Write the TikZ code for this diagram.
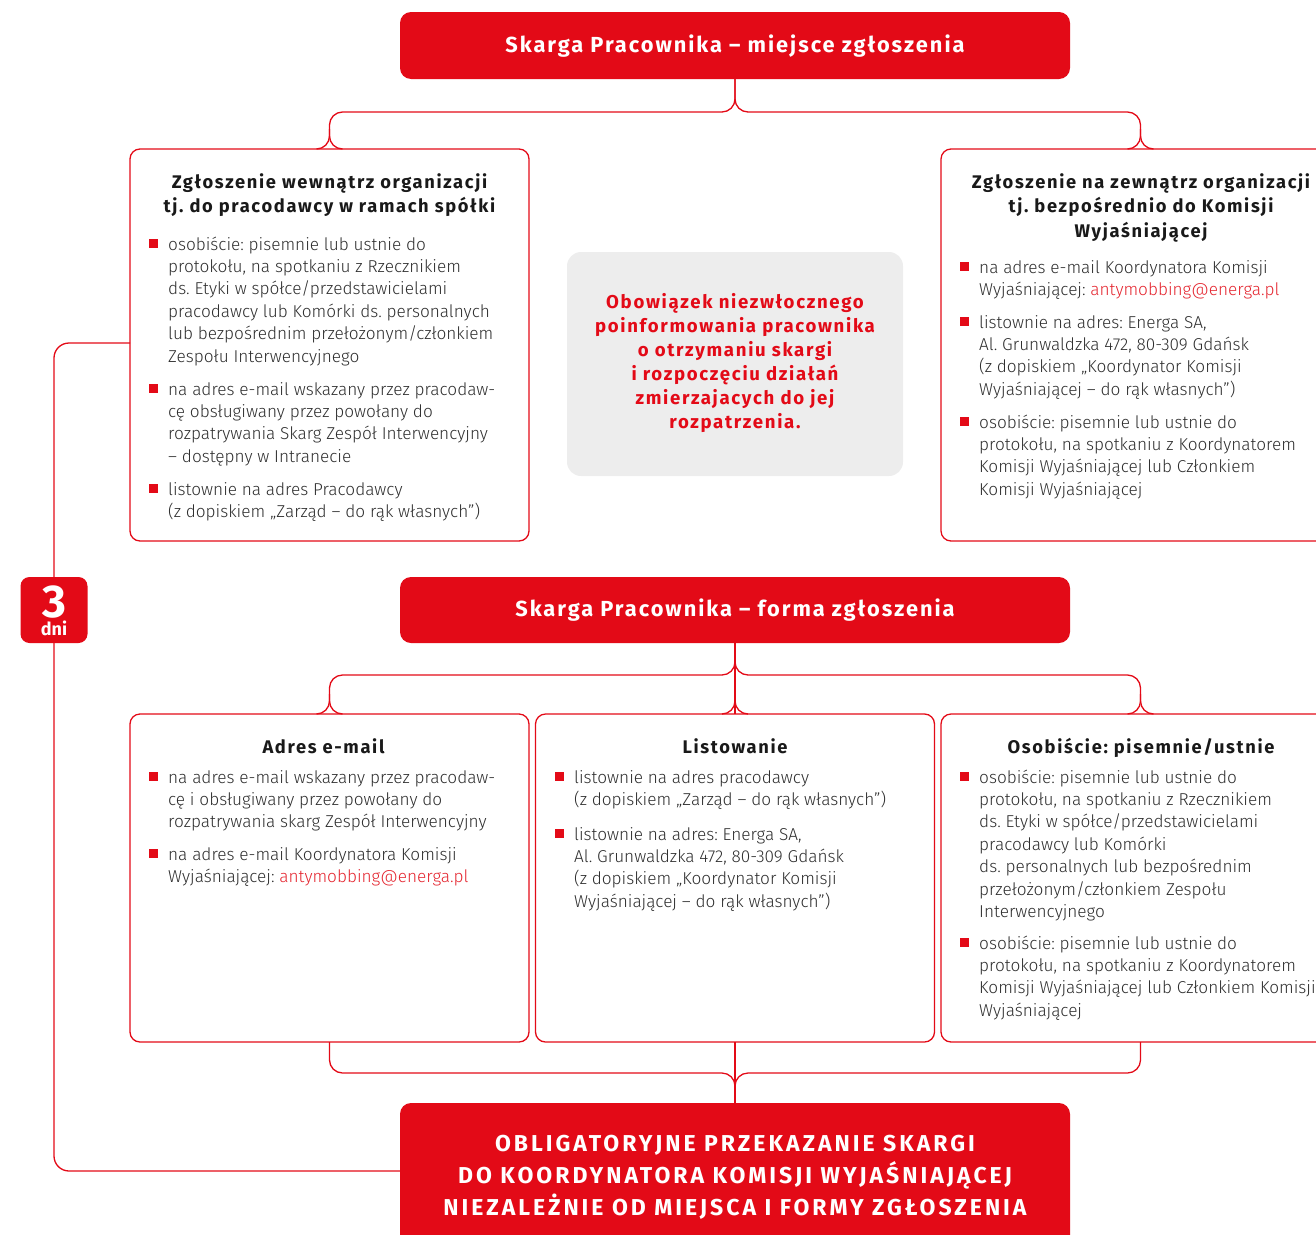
\documentclass[tikz,border=0pt]{standalone}
\usepackage{fontspec}
\setmainfont{Fira Sans}
\IfFontExistsTF{Fira Sans Light}{\newfontfamily\bodyfam{Fira Sans Light}}{\newfontfamily\bodyfam{Fira Sans}}
\newfontfamily\hf{Fira Sans}[LetterSpace=9]
\newfontfamily\hfw{Fira Sans}[LetterSpace=13]
\usetikzlibrary{positioning}
\definecolor{ered}{HTML}{E30A17}
\definecolor{txt}{HTML}{2E2E2E}
\definecolor{mail}{HTML}{E4252F}
\definecolor{gbox}{HTML}{EDEDED}
\frenchspacing
\newcommand\bodyf{\bodyfam\fontsize{17.2}{22.4}\selectfont}
\newcommand\titf{\hf\bfseries\fontsize{18.3}{24.5}\selectfont}
\newcommand\hdrf{\hf\bfseries\fontsize{21.8}{24}\selectfont}
\newcommand\grf{\hf\bfseries\fontsize{18.6}{24}\selectfont}
\newcommand\botf{\hfw\bfseries\fontsize{23}{32}\selectfont}
\newcommand\bul[1]{\makebox[19pt][l]{\raisebox{2.5pt}{\textcolor{ered}{\rule{9pt}{9pt}}}}\begin{tabular}[t]{@{}l@{}}#1\end{tabular}}
\newcommand\ctab[1]{\begin{tabular}[t]{@{}c@{}}#1\end{tabular}}
\newcommand\ml[1]{\textcolor{mail}{#1}}
\newcommand\threedni{\sbox0{\fontsize{46}{46}\selectfont 3}\usebox0\llap{\makebox[\wd0][c]{\raisebox{-18pt}{\fontsize{18}{18}\selectfont dni}}}}
\tikzset{
  box/.style={draw=ered, line width=1.3pt, rounded corners=10pt, inner sep=0pt, outer sep=0pt},
  redbox/.style={fill=ered, rounded corners=11pt, inner sep=0pt, outer sep=0pt},
  graybox/.style={fill=gbox, rounded corners=14pt, inner sep=0pt, outer sep=0pt},
  conn/.style={draw=ered, line width=1.3pt, rounded corners=13pt},
  itm/.style={anchor=base west, inner sep=0pt, font=\bodyf, text=txt},
  ttl/.style={anchor=base, inner sep=0pt, font=\titf, text=black!90},
  hdt/.style={anchor=base, inner sep=0pt, font=\hdrf, text=white},
}
\begin{document}
\begin{tikzpicture}[x=1pt,y=-1pt]
\useasboundingbox (0,0) rectangle (1316,1234);
\clip (0,0) rectangle (1316,1234);

% ---------- boxes ----------
\node[redbox, minimum width=670pt, minimum height=67pt] (h1) at (735,45.5) {};
\node[box, minimum width=399pt, minimum height=392pt] (b1) at (329.5,345) {};
\node[box, minimum width=399pt, minimum height=392pt] (b2) at (1140.5,345) {};
\node[graybox, minimum width=336pt, minimum height=224pt] (g) at (735,364) {};
\node[redbox, minimum width=670pt, minimum height=66pt] (h2) at (735,610) {};
\node[redbox, rounded corners=9pt, minimum width=67pt, minimum height=66pt] (d3) at (54,610) {};
\node[box, minimum width=399pt, minimum height=328pt] (c1) at (329.5,878) {};
\node[box, minimum width=399pt, minimum height=328pt] (c2) at (735,878) {};
\node[box, minimum width=399pt, minimum height=328pt] (c3) at (1140.5,878) {};
\node[redbox, minimum width=670pt, minimum height=154pt] (h3) at (735,1180) {};

% ---------- connectors ----------
\coordinate (s1) at (735,112);
\draw[conn] (h1.south) -- (s1) -- (s1 -| b1.north) -- (b1.north) -- ([xshift=-13pt]b1.north);
\draw[conn] ([xshift=13pt]b1.north) -- (b1.north) -- ([yshift=20pt]b1.north);
\draw[conn] (h1.south) -- (s1) -- (s1 -| b2.north) -- (b2.north) -- ([xshift=-13pt]b2.north);
\draw[conn] ([xshift=13pt]b2.north) -- (b2.north) -- ([yshift=20pt]b2.north);

\coordinate (s2) at (735,675);
\draw[conn] (h2.south) -- (s2) -- (s2 -| c1.north) -- (c1.north) -- ([xshift=-13pt]c1.north);
\draw[conn] ([xshift=13pt]c1.north) -- (c1.north) -- ([yshift=20pt]c1.north);
\draw[conn] (h2.south) -- (s2) -- (s2 -| c3.north) -- (c3.north) -- ([xshift=-13pt]c3.north);
\draw[conn] ([xshift=13pt]c3.north) -- (c3.north) -- ([yshift=20pt]c3.north);
\draw[conn] (h2.south) -- (c2.north);
\draw[conn] ([xshift=-13pt]c2.north) -- (c2.north) -- ([yshift=20pt]c2.north);
\draw[conn] ([xshift=13pt]c2.north) -- (c2.north) -- ([yshift=20pt]c2.north);

\coordinate (s3) at (735,1073);
\draw[conn] (c1.south) -- (s3 -| c1.south) -- (s3) -- (h3.north);
\draw[conn] (c3.south) -- (s3 -| c3.south) -- (s3) -- (h3.north);
\draw[conn] (c2.south) -- (h3.north);

\coordinate (lt) at (54,343);
\coordinate (lb) at (54,1171);
\coordinate (h3l) at (400,1171);
\draw[conn, rounded corners=15pt] ([yshift=2pt]b1.west) -- (lt) -- (d3.north);
\draw[conn, rounded corners=15pt] (d3.south) -- (lb) -- (h3l);

% ---------- header texts ----------
\node[hdt] (h1t) at (735,52) {Skarga Pracownika – miejsce zgłoszenia};
\node[hdt] (h2t) at (735,616) {Skarga Pracownika – forma zgłoszenia};
\node[anchor=base, inner sep=0pt, font=\botf, text=white] (h3t) at (735,1151)
  {\ctab{OBLIGATORYJNE PRZEKAZANIE SKARGI\\DO KOORDYNATORA KOMISJI WYJAŚNIAJĄCEJ\\NIEZALEŻNIE OD MIEJSCA I FORMY ZGŁOSZENIA}};
\node[anchor=base, inner sep=0pt, font=\bfseries, text=white] (d3t) at (54,617) {\threedni};

% ---------- gray box ----------
\node[anchor=base, inner sep=0pt, font=\grf, text=ered] (gt) at (735,308)
  {\ctab{Obowiązek niezwłocznego\\poinformowania pracownika\\o otrzymaniu skargi\\i rozpoczęciu działań\\zmierzajacych do jej\\rozpatrzenia.}};

% ---------- top-left box ----------
\node[ttl] (b1t) at (329.5,188) {\ctab{Zgłoszenie wewnątrz organizacji\\tj. do pracodawcy w ramach spółki}};
\node[itm] (b1a) at (149,250) {\bul{osobiście: pisemnie lub ustnie do\\protokołu, na spotkaniu z Rzecznikiem\\ds. Etyki w spółce/przedstawicielami\\pracodawcy lub Komórki ds. personalnych\\lub bezpośrednim przełożonym/członkiem\\Zespołu Interwencyjnego}};
\node[itm] (b1b) at (149,395) {\bul{na adres e-mail wskazany przez pracodaw-\\cę obsługiwany przez powołany do\\rozpatrywania Skarg Zespół Interwencyjny\\– dostępny w Intranecie}};
\node[itm] (b1c) at (149,495) {\bul{listownie na adres Pracodawcy\\(z dopiskiem „Zarząd – do rąk własnych”)}};

% ---------- top-right box ----------
\node[ttl] (b2t) at (1141,188) {\ctab{Zgłoszenie na zewnątrz organizacji\\tj. bezpośrednio do Komisji\\Wyjaśniającej}};
\node[itm] (b2a) at (960,273) {\bul{na adres e-mail Koordynatora Komisji\\Wyjaśniającej: \ml{antymobbing@energa.pl}}};
\node[itm] (b2b) at (960,328) {\bul{listownie na adres: Energa SA,\\Al. Grunwaldzka 472, 80-309 Gdańsk\\(z dopiskiem „Koordynator Komisji\\Wyjaśniającej – do rąk własnych”)}};
\node[itm] (b2c) at (960,428) {\bul{osobiście: pisemnie lub ustnie do\\protokołu, na spotkaniu z Koordynatorem\\Komisji Wyjaśniającej lub Członkiem\\Komisji Wyjaśniającej}};

% ---------- row 2 ----------
\node[ttl] (c1t) at (323.5,753) {Adres e-mail};
\node[itm] (c1a) at (149,783) {\bul{na adres e-mail wskazany przez pracodaw-\\cę i obsługiwany przez powołany do\\rozpatrywania skarg Zespół Interwencyjny}};
\node[itm] (c1b) at (149,860) {\bul{na adres e-mail Koordynatora Komisji\\Wyjaśniającej: \ml{antymobbing@energa.pl}}};

\node[ttl] (c2t) at (735,753) {Listowanie};
\node[itm] (c2a) at (555,783) {\bul{listownie na adres pracodawcy\\(z dopiskiem „Zarząd – do rąk własnych”)}};
\node[itm] (c2b) at (555,840) {\bul{listownie na adres: Energa SA,\\Al. Grunwaldzka 472, 80-309 Gdańsk\\(z dopiskiem „Koordynator Komisji\\Wyjaśniającej – do rąk własnych”)}};

\node[ttl] (c3t) at (1141,753) {Osobiście: pisemnie/ustnie};
\node[itm] (c3a) at (960,783) {\bul{osobiście: pisemnie lub ustnie do\\protokołu, na spotkaniu z Rzecznikiem\\ds. Etyki w spółce/przedstawicielami\\pracodawcy lub Komórki\\ds. personalnych lub bezpośrednim\\przełożonym/członkiem Zespołu\\Interwencyjnego}};
\node[itm] (c3b) at (960,949) {\bul{osobiście: pisemnie lub ustnie do\\protokołu, na spotkaniu z Koordynatorem\\Komisji Wyjaśniającej lub Członkiem Komisji\\Wyjaśniającej}};
\end{tikzpicture}
\end{document}
